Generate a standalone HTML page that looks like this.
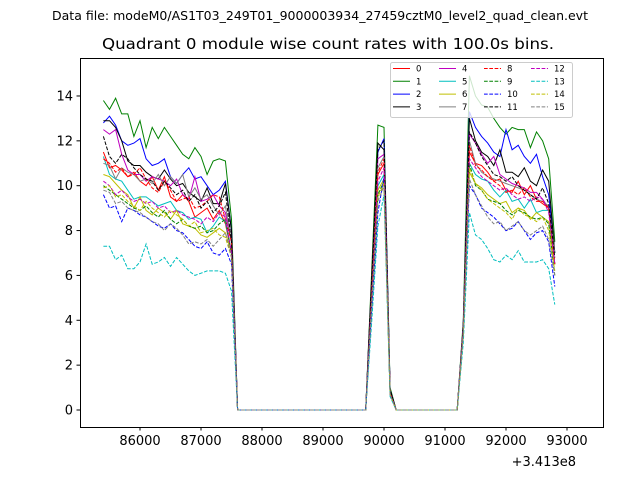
<!DOCTYPE html>
<html><head><meta charset="utf-8"><style>body{margin:0;background:#fff}svg{display:block;font-family:"DejaVu Sans","Liberation Sans",sans-serif}</style></head>
<body>
<svg id="chart" width="640" height="480" viewBox="0 0 640 480">
<text x="320" y="20" font-size="12" text-anchor="middle" textLength="536" lengthAdjust="spacingAndGlyphs">Data file: modeM0/AS1T03_249T01_9000003934_27459cztM0_level2_quad_clean.evt</text>
<text x="328" y="49" font-size="15" text-anchor="middle" textLength="452" lengthAdjust="spacingAndGlyphs">Quadrant 0 module wise count rates with 100.0s bins.</text>
<g id="plot"></g>
<rect x="80.5" y="58.5" width="523" height="369" fill="none" stroke="#000" stroke-width="1"/>
<g id="axes"></g>
<g id="legend"></g>
</svg>
<script>
const colors=['#ff0000','#008000','#0000ff','#000000','#bf00bf','#00bfbf','#bfbf00','#808080'];
const seriesNames=['0','1','2','3','4','5','6','7','8','9','10','11','12','13','14','15'];
const xTicks=[86000,87000,88000,89000,90000,91000,92000,93000];
const yTicks=[0,2,4,6,8,10,12,14];
// segment A: 85400..87500 (100 s bins)
const segA=[
[11.5,10.8,10.9,10.7,10.4,10.6,10.2,10.0,10.4,9.8,10.4,9.5,9.3,9.6,9.3,8.6,8.8,9.0,8.5,8.9,8.3,7.0],
[13.8,13.4,13.9,13.2,13.2,12.2,12.9,11.7,12.6,12.1,12.6,12.2,11.8,11.4,11.2,11.7,11.3,10.5,11.1,11.2,11.1,8.5],
[12.8,13.1,12.7,12.0,11.8,11.9,12.1,11.2,10.9,11.0,11.2,10.4,10.1,10.5,10.8,10.3,10.4,10.0,9.6,9.8,10.2,8.0],
[12.9,12.9,12.6,12.0,11.1,10.9,10.9,10.6,10.4,10.3,10.7,10.3,10.0,10.1,9.7,9.5,9.3,9.9,9.2,9.2,10.1,8.0],
[12.5,12.3,12.5,11.4,10.7,10.5,10.5,10.2,10.4,10.3,10.2,10.0,10.3,9.6,9.4,10.4,9.3,9.4,9.6,9.1,8.8,7.5],
[11.3,10.5,10.3,10.2,9.8,9.4,9.5,9.5,9.3,9.1,9.2,9.3,8.9,8.8,8.5,8.6,8.5,7.9,8.2,8.6,8.4,7.0],
[10.5,10.4,10.1,9.8,9.6,9.0,9.5,8.9,8.7,9.0,8.8,8.5,8.9,8.3,8.2,8.1,7.8,7.7,7.9,8.1,7.9,7.0],
[11.0,10.9,10.3,10.8,10.6,10.5,10.2,10.3,10.1,10.5,10.0,10.4,10.1,10.5,9.5,9.9,9.4,9.6,9.1,8.7,9.1,7.5],
[11.2,11.0,10.6,10.8,10.4,10.5,10.8,10.3,9.9,9.7,10.2,9.8,9.3,9.4,9.5,9.0,9.1,9.3,9.6,9.5,8.5,7.5],
[10.0,9.8,9.6,9.4,9.2,9.0,8.9,9.1,8.8,8.6,8.9,8.5,8.3,8.5,8.2,8.1,8.2,7.9,8.0,8.3,8.5,7.0],
[9.6,9.0,9.1,8.4,9.0,8.9,8.7,8.6,8.4,8.2,8.1,8.3,8.0,7.9,7.6,7.3,7.2,7.5,7.0,6.9,7.2,6.5],
[12.2,11.3,11.0,11.4,11.2,10.8,10.5,10.3,10.2,9.8,10.2,9.9,9.6,9.8,9.3,9.6,9.0,9.3,8.8,9.1,9.7,7.5],
[10.2,10.0,9.6,9.8,9.5,9.3,9.4,9.2,9.3,9.0,9.1,8.8,8.9,8.7,8.6,8.5,8.3,8.6,8.4,8.8,8.6,7.0],
[7.3,7.3,6.7,6.9,6.3,6.3,6.6,7.4,6.5,6.6,6.8,6.4,6.8,6.5,6.2,6.0,6.1,6.2,6.2,6.2,6.1,5.3],
[9.9,10.0,9.5,9.6,9.3,9.1,8.9,9.3,9.0,8.8,8.6,8.9,8.7,8.5,8.2,8.4,7.9,8.0,8.1,7.8,7.7,6.8],
[9.8,9.7,9.2,9.3,9.0,8.9,8.8,8.6,8.4,8.3,8.0,8.3,8.1,7.8,7.4,7.5,7.4,7.6,7.3,7.6,7.9,6.8]];
// segment B: 89800..90100
const segB=[
[5.3,10.5,11.0,0.8],[6.3,12.7,12.6,1.0],[5.8,11.5,12.1,0.9],[6.0,11.9,11.6,0.9],
[5.6,11.2,11.4,0.8],[5.0,10.0,10.5,0.7],[4.9,9.8,10.3,0.7],[5.4,10.8,11.3,0.8],
[5.3,10.6,11.2,0.8],[4.9,9.6,10.2,0.7],[4.5,8.8,10.4,0.7],[5.8,11.6,12.0,0.9],
[5.1,10.2,10.8,0.7],[4.0,8.2,9.6,0.6],[4.8,9.5,10.1,0.7],[4.7,9.3,10.0,0.7]];
// segment C: 91300..92800
const segC=[
[3.6,11.5,11.0,10.9,10.6,10.2,10.3,9.8,9.7,10.2,9.6,10.0,9.4,9.2,9.0,6.5],
[4.0,14.9,14.0,13.6,13.5,13.0,12.6,12.3,12.6,12.5,12.5,11.7,12.4,12.0,11.2,7.5],
[3.8,13.3,12.6,12.2,11.9,11.5,11.3,12.5,11.6,11.8,11.3,11.0,11.4,10.4,9.6,7.0],
[3.8,13.0,12.0,11.5,11.3,10.9,11.6,10.6,10.6,10.4,10.8,10.2,10.0,10.7,10.2,7.0],
[3.7,12.3,11.9,11.4,11.0,11.3,10.5,10.3,10.1,10.0,9.9,9.7,9.7,9.4,9.0,6.5],
[3.6,11.0,10.5,10.3,10.2,9.8,9.5,9.8,9.3,9.4,9.0,9.4,8.8,8.9,8.9,6.5],
[3.5,10.6,10.1,9.9,9.6,9.4,9.2,9.3,8.8,9.0,8.9,8.5,8.8,8.6,8.4,6.5],
[3.7,12.0,11.0,10.6,10.4,10.3,10.2,10.1,10.0,9.9,9.8,9.6,9.4,9.3,9.1,7.0],
[3.6,11.8,10.9,10.7,10.4,10.2,10.0,9.7,9.8,9.6,9.9,9.5,9.3,9.3,9.0,6.5],
[3.5,11.0,10.0,9.8,9.4,9.3,9.2,8.9,8.7,8.9,8.8,8.6,8.5,8.6,8.3,6.0],
[3.4,10.0,9.6,9.0,8.8,8.6,8.3,8.0,8.1,8.4,8.0,7.6,7.9,8.0,7.5,5.5],
[3.8,12.4,11.9,11.3,10.9,10.5,10.4,10.2,10.4,10.0,9.8,9.6,9.4,9.9,9.2,6.8],
[3.6,11.2,10.8,10.4,10.2,10.0,9.8,9.9,9.6,9.4,9.5,9.3,9.5,9.4,8.8,6.5],
[3.0,8.8,7.8,7.6,7.2,6.7,6.6,6.9,6.7,7.1,6.6,6.6,6.6,6.7,6.3,4.7],
[3.4,10.8,10.1,9.8,9.4,9.2,9.0,8.8,8.5,9.0,8.7,8.6,8.4,8.6,8.0,6.2],
[3.4,10.3,9.6,9.1,8.6,8.3,8.4,8.0,8.2,8.4,8.0,7.8,8.0,8.2,7.6,6.0]];
const tStart=85400, tEnd=92800, bStart=89800, cStart=91300;

const NS='http://www.w3.org/2000/svg';
const X=v=>140+(v-86000)*0.061;
const Y=v=>410-v*22.43;
function mk(tag,attrs,parent){const e=document.createElementNS(NS,tag);for(const k in attrs)e.setAttribute(k,attrs[k]);parent.appendChild(e);return e;}
function valueAt(s,t){
  const ia=(t-tStart)/100; if(ia<segA[s].length) return segA[s][ia];
  const ib=(t-bStart)/100; if(ib>=0&&ib<segB[s].length) return segB[s][ib];
  const ic=(t-cStart)/100; if(ic>=0&&ic<segC[s].length) return segC[s][ic];
  return 0;
}
const plot=document.getElementById('plot');
for(let s=0;s<16;s++){
  const pts=[];
  for(let t=tStart;t<=tEnd;t+=100) pts.push(X(t).toFixed(1)+','+Y(valueAt(s,t)).toFixed(1));
  const p=mk('polyline',{points:pts.join(' '),fill:'none',stroke:colors[s%8],'stroke-width':1},plot);
  if(s>=8) p.setAttribute('stroke-dasharray','3.7,1.6');
  
  
}
const axes=document.getElementById('axes');
xTicks.forEach(v=>{
  const l=mk('line',{x1:X(v),x2:X(v),y1:427,y2:430.5,stroke:'#000'},axes);
  
  
  const t=mk('text',{x:X(v),y:445,'font-size':13,'text-anchor':'middle'},axes);
  t.textContent=v;
  
  
});
yTicks.forEach(v=>{
  const l=mk('line',{x1:76.5,x2:80,y1:Y(v),y2:Y(v),stroke:'#000'},axes);
  
  
  const t=mk('text',{x:73,y:Y(v)+4.5,'font-size':13,'text-anchor':'end'},axes);
  t.textContent=v;
  
  
});
const off=mk('text',{x:576,y:466,'font-size':13,'text-anchor':'end'},axes);
off.textContent='+3.413e8';



const lg=document.getElementById('legend');
const box=mk('rect',{x:390.5,y:62.5,width:182,height:55,rx:2,fill:'#fff','fill-opacity':0.8,stroke:'#ccc'},lg);


const colX=[393,439,484,531];
for(let s=0;s<16;s++){
  const c=Math.floor(s/4), r=s%4, y=68.5+r*12.8;
  const g=mk('g',{},lg);
  
  
  const l=mk('line',{x1:colX[c],x2:colX[c]+17,y1:y,y2:y,stroke:colors[s%8],'stroke-width':1},g);
  if(s>=8) l.setAttribute('stroke-dasharray','3.7,1.6');
  const t=mk('text',{x:colX[c]+23,y:y+3,'font-size':8.5},g);
  t.textContent=seriesNames[s];
}
</script>
</body></html>
